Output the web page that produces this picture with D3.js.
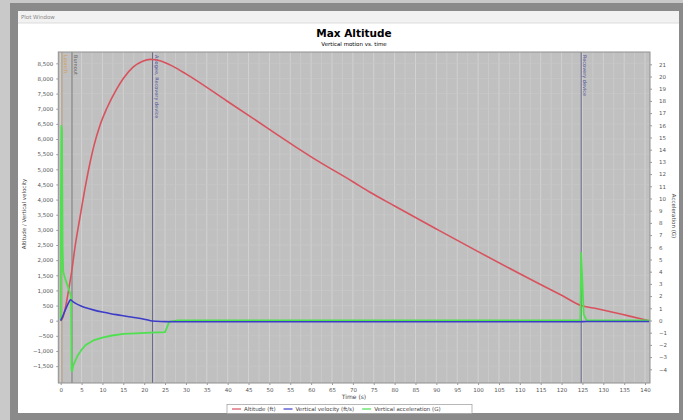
<!DOCTYPE html>
<html><head><meta charset="utf-8">
<script src="https://cdn.jsdelivr.net/npm/d3@7"></script>
<style>html,body{margin:0;padding:0;background:#c9c9c9;}svg{display:block;font-family:"DejaVu Sans",sans-serif;}</style>
</head><body>
<svg id="c" width="683" height="420"></svg>
<script>
// ---- data ----
const altTime = [0,0.5,1,1.5,2,2.6,3.5,4.6,6,7,8,9.4,11,13.4,15,17.4,19.5,21.5,24,27,30,40,50,57.3,60,70,74,80,90,100,110,120,124.7,128,132,136,141];
const altitude = [0,100,350,700,1100,1600,2500,3400,4500,5200,5800,6450,7000,7650,8000,8380,8560,8630,8580,8390,8150,7240,6320,5650,5410,4590,4250,3790,3030,2280,1550,840,500,410,290,160,0];
const velTime = [0,0.5,1,1.5,2,2.3,3,4,5,6,8,10,12,14,16,18,20,21.5,23,25,28,60,100,124.5,125,126,141];
const velocity = [0,150,320,480,620,690,620,540,480,430,350,285,230,185,140,100,50,0,-20,-32,-36,-36,-34,-34,-30,-28,-28];
const accTime = [0,0.05,0.15,0.3,0.45,0.6,1,1.5,2,2.5,2.6,2.7,3,4,5,6,8,10,12,15,18,21.5,25,26,28,124.5,124.7,125,125.3,126,141];
const acceleration = [0,10,16,15.5,6,4,3.5,3,2.5,2,-4,-4.2,-3.7,-2.9,-2.4,-2,-1.6,-1.4,-1.25,-1.1,-1.05,-1,-0.95,-0.1,0,0,5.6,3,0.5,0,0];
const xTicks = d3.range(0,141,5);
const leftTicks = d3.range(-1500,8501,500);
const rightTicks = d3.range(-4,22,1);
const events = [
  {t:0.3, name:"Launch", color:"#d09a58", line:"#b49a7a"},
  {t:2.7, name:"Burnout", color:"#666", line:"#777"},
  {t:22.0, name:"Apogee, Recovery device", color:"#50509a", line:"#6a6a8c"},
  {t:124.7, name:"Recovery device", color:"#50509a", line:"#6a6a8c"}
];
const seriesNames = ["Altitude (ft)","Vertical velocity (ft/s)","Vertical acceleration (G)"];
const seriesColors = ["#d8525e","#3c3cc8","#4ee04e"];

// ---- layout ----
const svg = d3.select("#c");
const P = {l:58.3, r:650, t:52, b:383};
svg.append("rect").attr("x",10).attr("y",3).attr("width",673).attr("height",417).attr("fill","#8a8a8a");
svg.append("rect").attr("x",18).attr("y",11).attr("width",661).attr("height",402).attr("fill","#ffffff");
svg.append("rect").attr("x",18).attr("y",11).attr("width",661).attr("height",12).attr("fill","#f2f2f2");
svg.append("line").attr("x1",18).attr("x2",679).attr("y1",23).attr("y2",23).attr("stroke","#dcdcdc");
svg.append("text").attr("x",21).attr("y",19).attr("font-size",5.5).attr("fill","#888").text("Plot Window");

const x = d3.scaleLinear().domain([(P.l-60.7)/4.174,(P.r-60.7)/4.174]).range([P.l,P.r]);
const yL = d3.scaleLinear().domain([-(P.b-320.7)/0.03028,(320.7-P.t)/0.03028]).range([P.b,P.t]);
const yR = d3.scaleLinear().domain([-(P.b-320.5)/12.2,(320.5-P.t)/12.2]).range([P.b,P.t]);

svg.append("text").attr("x",354).attr("y",37).attr("text-anchor","middle").attr("font-size",10.5).attr("font-weight","bold").text("Max Altitude");
svg.append("text").attr("x",354).attr("y",46).attr("text-anchor","middle").attr("font-size",5.5).text("Vertical motion vs. time");

svg.append("rect").attr("x",P.l).attr("y",P.t).attr("width",P.r-P.l).attr("height",P.b-P.t).attr("fill","#c0c0c0");
// grid
const g = svg.append("g");
g.selectAll("line.vg").data(d3.range(0,141,2.5)).join("line")
  .attr("x1",d=>x(d)).attr("x2",d=>x(d)).attr("y1",P.t).attr("y2",P.b)
  .attr("stroke",(d,i)=>i%2?"#cbcbcb":"#d6d6d6").attr("stroke-width",0.8);
g.selectAll("line.hg").data(leftTicks).join("line")
  .attr("x1",P.l).attr("x2",P.r).attr("y1",d=>yL(d)).attr("y2",d=>yL(d))
  .attr("stroke","#c9c9c9").attr("stroke-width",0.6);

// events
const ev = svg.append("g");
events.forEach(e=>{
  ev.append("line").attr("x1",x(e.t)).attr("x2",x(e.t)).attr("y1",P.t).attr("y2",P.b).attr("stroke",e.line).attr("stroke-width",1);
  ev.append("text").attr("transform",`translate(${x(e.t)+2},${P.t+3}) rotate(90)`).attr("font-size",5).attr("fill",e.color).text(e.name);
});

// series
const lineL = (tt,vv)=>d3.line().curve(d3.curveMonotoneX).x((d,i)=>x(tt[i])).y(d=>yL(d))(vv);
svg.append("path").attr("d",lineL(altTime,altitude)).attr("fill","none").attr("stroke",seriesColors[0]).attr("stroke-width",1.6);
svg.append("path").attr("d",d3.line().x((d,i)=>x(accTime[i])).y(d=>yR(d))(acceleration)).attr("fill","none").attr("stroke",seriesColors[2]).attr("stroke-width",1.8);
svg.append("path").attr("d",lineL(velTime,velocity)).attr("fill","none").attr("stroke",seriesColors[1]).attr("stroke-width",1.6);

svg.append("rect").attr("x",P.l).attr("y",P.t).attr("width",P.r-P.l).attr("height",P.b-P.t).attr("fill","none").attr("stroke","#909090").attr("stroke-width",1);

// axes
const ax = svg.append("g").attr("transform",`translate(0,${P.b})`).call(d3.axisBottom(x).tickValues(xTicks).tickSize(2).tickFormat(d3.format("d")));
const al = svg.append("g").attr("transform",`translate(${P.l},0)`).call(d3.axisLeft(yL).tickValues(leftTicks).tickSize(2).tickFormat(d3.format(",")));
const ar = svg.append("g").attr("transform",`translate(${P.r},0)`).call(d3.axisRight(yR).tickValues(rightTicks).tickSize(2).tickFormat(d3.format("d")));
[ax,al,ar].forEach(a=>{a.select(".domain").remove();a.selectAll("text").attr("font-size",5.5).attr("fill","#555").attr("font-family","DejaVu Sans");a.selectAll("line").attr("stroke","#999");});
ar.selectAll("text").attr("x",9);

svg.append("text").attr("x",354).attr("y",399).attr("text-anchor","middle").attr("font-size",6).attr("fill","#444").text("Time (s)");
svg.append("text").attr("transform","translate(26,214) rotate(-90)").attr("text-anchor","middle").attr("font-size",5.5).attr("fill","#444").text("Altitude / Vertical velocity");
svg.append("text").attr("transform","translate(672,216) rotate(90)").attr("text-anchor","middle").attr("font-size",5.5).attr("fill","#444").text("Acceleration (G)");

// legend
const lg = svg.append("g");
lg.append("rect").attr("x",227).attr("y",404.5).attr("width",245).attr("height",9).attr("fill","#fff").attr("stroke","#999").attr("stroke-width",0.7);
let lx = 232;
seriesNames.forEach((n,i)=>{
  lg.append("line").attr("x1",lx).attr("x2",lx+9).attr("y1",409).attr("y2",409).attr("stroke",seriesColors[i]).attr("stroke-width",1.2);
  const t = lg.append("text").attr("x",lx+12).attr("y",411).attr("font-size",5.5).attr("fill","#444").text(n);
  lx += 12 + t.node().getComputedTextLength() + 8;
});
</script>
</body></html>
